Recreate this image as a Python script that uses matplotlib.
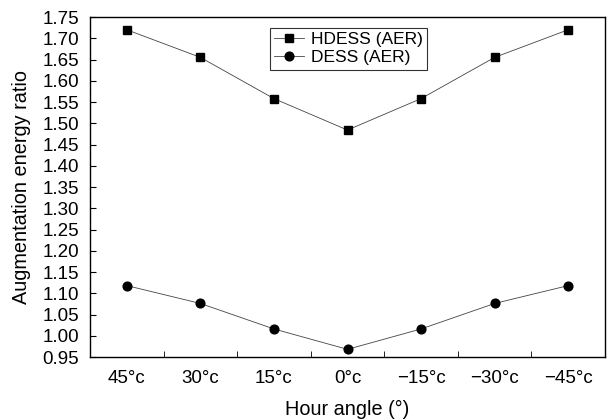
import matplotlib
matplotlib.use("Agg")
import matplotlib.pyplot as plt
import numpy as np

plt.rcParams['font.family'] = ['Liberation Sans', 'DejaVu Sans']

categories = ["45°c", "30°c", "15°c", "0°c", "\u221215°c", "\u221230°c", "\u221245°c"]
hdess = [1.72, 1.655, 1.558, 1.484, 1.558, 1.655, 1.72]
dess = [1.118, 1.076, 1.016, 0.968, 1.016, 1.076, 1.118]

fig = plt.figure(figsize=(6.11, 4.19), dpi=100)
ax = fig.add_axes([90/611, 1-357/419, 515/611, 340/419])

x = np.arange(len(categories))
ax.plot(x, hdess, color='#444444', lw=0.6, marker='s', ms=5.4, mfc='black', mec='black', label='HDESS (AER)')
ax.plot(x, dess, color='#444444', lw=0.6, marker='o', ms=6.3, mfc='black', mec='black', label='DESS (AER)')

ax.set_xlim(-0.5, 6.5)
ax.set_ylim(0.95, 1.75)
ax.set_xticks(x)
ax.set_xticklabels(categories, fontsize=13.5)
ax.set_xticks(np.arange(-0.5, 6.6, 1), minor=True)
ax.tick_params(axis='x', which='major', length=0, pad=9)
ax.tick_params(axis='x', which='minor', direction='in', length=4)
yt = np.round(np.arange(0.95, 1.751, 0.05), 2)
ax.set_yticks(yt)
ax.set_yticklabels([f"{v:.2f}" for v in yt], fontsize=13.5)
ax.tick_params(axis='y', direction='in', length=4, pad=8)
for s in ax.spines.values():
    s.set_linewidth(1.0)

ax.set_xlabel("Hour angle (°)", fontsize=14.3, labelpad=10)
ax.set_ylabel("Augmentation energy ratio", fontsize=14.3, labelpad=8)

leg = ax.legend(loc='upper left', bbox_to_anchor=((270-90)/515, 1-(28-17)/340), fontsize=12.5,
                frameon=True, fancybox=False, edgecolor='black', borderpad=0.25,
                handlelength=1.7, handletextpad=0.4, labelspacing=0.15, borderaxespad=0)
leg.get_frame().set_linewidth(0.8)

fig.savefig("out.png", dpi=100)
